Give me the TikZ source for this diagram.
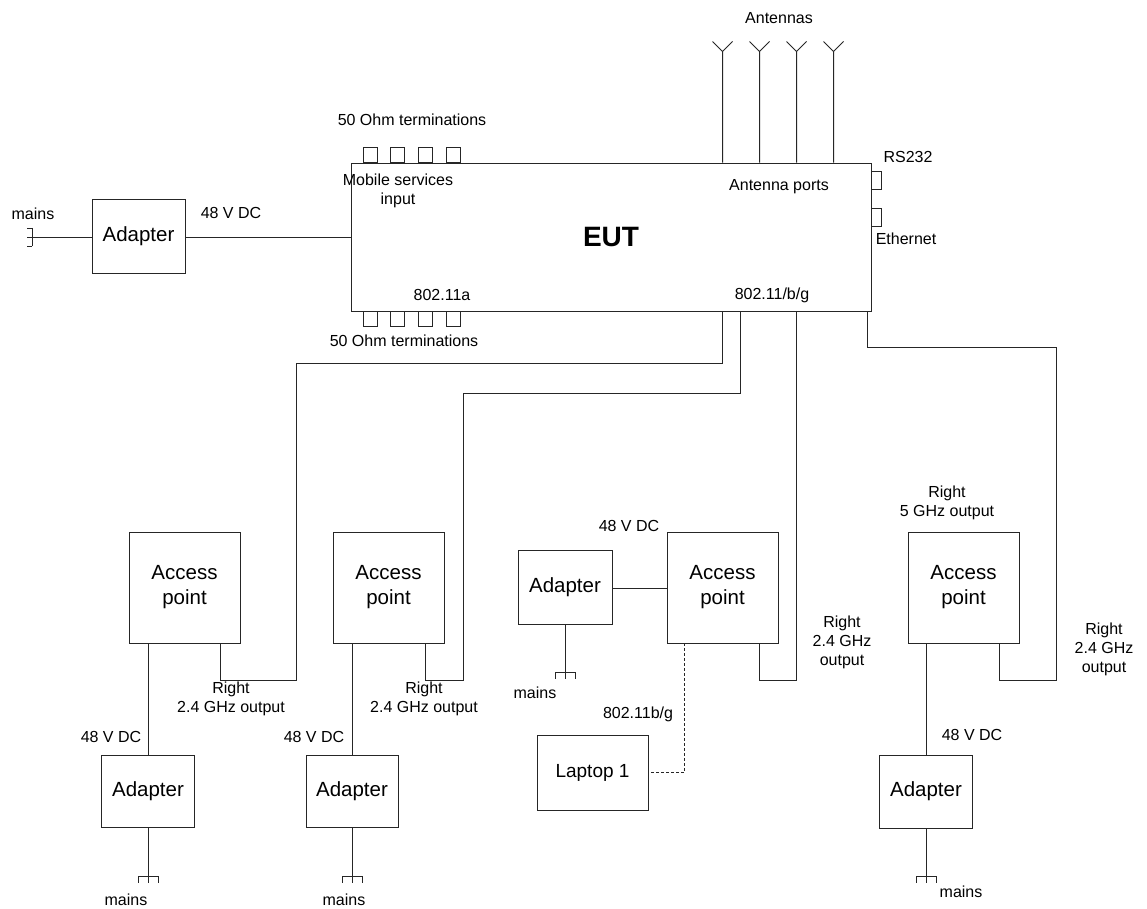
\documentclass[tikz,border=0pt]{standalone}
\usepackage{fontspec}
\setmainfont{Liberation Sans}
\newcommand\flab{\fontsize{16}{19}\selectfont}
\newcommand\fblk{\fontsize{20.5}{25}\selectfont}
\newcommand\feut{\fontsize{28}{32}\selectfont\bfseries}
\tikzset{
  wire/.style={draw=black!85, line width=0.9pt},
  dwire/.style={wire, dash pattern=on 3pt off 2pt},
  blk/.style={draw=black!85, line width=0.9pt, inner sep=0pt, align=center, font=\fblk},
  term/.style={draw=black!85, line width=0.9pt, inner sep=0pt, minimum width=14pt, minimum height=15pt},
  lbl/.style={inner sep=0pt, align=center, font=\flab},
  plugdown/.pic={\draw[wire] (-10,0) -- (10,0) (-10,0) -- (-10,7) (0,0) -- (0,7) (10,0) -- (10,7);},
  plugleft/.pic={\draw[wire] (0,-9) -- (0,9) (0,-9) -- (-5,-9) (0,0) -- (-5,0) (0,9) -- (-5,9);}
}
\begin{document}
\begin{tikzpicture}[x=1pt,y=-1pt]
\useasboundingbox (0,0) rectangle (1147,909);
\fill[white] (0,0) rectangle (1147,909);

% EUT
\node[blk, minimum width=520pt, minimum height=148pt, font=\feut] (eut) at (611,237) {EUT};
\node[lbl] (ms) at (398,191) {Mobile services\\input};
\node[lbl] (ap) at (779,187) {Antenna ports};
\node[lbl] (la) at (442,295) {802.11a};
\node[lbl] (lb) at (772,295) {802.11/b/g};

% terminations
\foreach \i/\dx in {1/12,2/39,3/67,4/95}{
  \node[term, anchor=south west] (t\i) at ([xshift=\dx pt]eut.north west) {};
  \node[term, anchor=north west] (b\i) at ([xshift=\dx pt]eut.south west) {};
}
\node[lbl] (tterm) at (412,120) {50 Ohm terminations};
\node[lbl] (bterm) at (404,341) {50 Ohm terminations};

% antennas
\foreach \i/\dx in {1/372,2/409,3/446,4/483}{
  \draw[wire] ([xshift=\dx pt]eut.north west) -- ++(0,-111) coordinate (ant\i)
    -- ++(-10,-10) (ant\i) -- ++(10,-10);
}
\node[lbl] (antl) at (779,18) {Antennas};

% RS232 / Ethernet
\draw[wire] ([yshift=-9pt]eut.north east) -- ++(10,0) -- ++(0,18) -- ++(-10,0);
\draw[wire] ([yshift=-46pt]eut.north east) -- ++(10,0) -- ++(0,18) -- ++(-10,0);
\node[lbl] (rs) at (908,157) {RS232};
\node[lbl] (eth) at (906,239) {Ethernet};

% left adapter
\node[blk, minimum width=93pt, minimum height=74pt] (adL) at (138.5,236) {Adapter};
\coordinate (plugL) at (32,237);
\draw[wire] (adL.west |- plugL) -- (plugL);
\pic at (plugL) {plugleft};
\node[lbl] (mainsL) at (33,214) {mains};
\node[lbl] (dcL) at (231,213) {48 V DC};
\draw[wire] (adL.east |- plugL) -- (eut.west |- plugL);

% access points
\node[blk, minimum width=111pt, minimum height=111pt] (ap1) at (184.5,587.5) {Access\\point};
\node[blk, minimum width=111pt, minimum height=111pt] (ap2) at (388.5,587.5) {Access\\point};
\node[blk, minimum width=111pt, minimum height=111pt] (ap3) at (722.5,587.5) {Access\\point};
\node[blk, minimum width=111pt, minimum height=111pt] (ap4) at (963.5,587.5) {Access\\point};

% adapters
\node[blk, minimum width=93pt, minimum height=72pt] (a1) at (148,791) {Adapter};
\node[blk, minimum width=92pt, minimum height=72pt] (a2) at (352,791) {Adapter};
\node[blk, minimum width=94pt, minimum height=74pt] (a3) at (565,587) {Adapter};
\node[blk, minimum width=93pt, minimum height=73pt] (a4) at (926,791.5) {Adapter};

% laptop
\node[blk, minimum width=111pt, minimum height=75pt, font=\fontsize{19}{23}\selectfont] (lap) at (592.5,772.5) {Laptop 1};

% power cables
\draw[wire] (a1.north) -- (a1.north |- ap1.south);
\draw[wire] (a2.north) -- (a2.north |- ap2.south);
\draw[wire] (a4.north) -- (a4.north |- ap4.south);
\draw[wire] (a3.east |- 0,588) -- (ap3.west |- 0,588);

% plugs
\coordinate (p1) at (148,876);
\coordinate (p2) at (352,876);
\coordinate (p3) at (565,672);
\coordinate (p4) at (926,876);
\foreach \k in {1,2,3,4}{
  \draw[wire] (a\k.south) -- (p\k);
  \pic at (p\k) {plugdown};
}
\node[lbl] (m1) at (126,900) {mains};
\node[lbl] (m2) at (344,900) {mains};
\node[lbl] (m3) at (535,693) {mains};
\node[lbl] (m4) at (961,892) {mains};

% 48 V DC labels
\node[lbl] (d1) at (111,737) {48 V DC};
\node[lbl] (d2) at (314,737) {48 V DC};
\node[lbl] (d3) at (629,526) {48 V DC};
\node[lbl] (d4) at (972,735) {48 V DC};

% output labels
\node[lbl] (r1) at (231,699) {Right\\2.4 GHz output};
\node[lbl] (r2) at (424,699) {Right\\2.4 GHz output};
\node[lbl] (r3) at (842,642) {Right\\2.4 GHz\\output};
\node[lbl] (r4) at (1104,649) {Right\\2.4 GHz\\output};
\node[lbl] (r5) at (947,503) {Right\\5 GHz output};

% RF cables
\draw[wire] ([xshift=372pt]eut.south west) |- (296,363) -- (296,680) -| ([xshift=92pt]ap1.south west);
\draw[wire] ([xshift=390pt]eut.south west) |- (463,393) -- (463,680) -| ([xshift=93pt]ap2.south west);
\draw[wire] ([xshift=446pt]eut.south west) -- ([xshift=446pt]eut.south west |- 0,680) -| ([xshift=93pt]ap3.south west);
\draw[wire] ([xshift=517pt]eut.south west) |- (1056,347) -- (1056,680) -| ([xshift=92pt]ap4.south west);

% laptop link
\draw[dwire] ([xshift=18pt]ap3.south west) |- (lap.east);
\node[lbl] (wl) at (638,714) {802.11b/g};
\end{tikzpicture}
\end{document}
